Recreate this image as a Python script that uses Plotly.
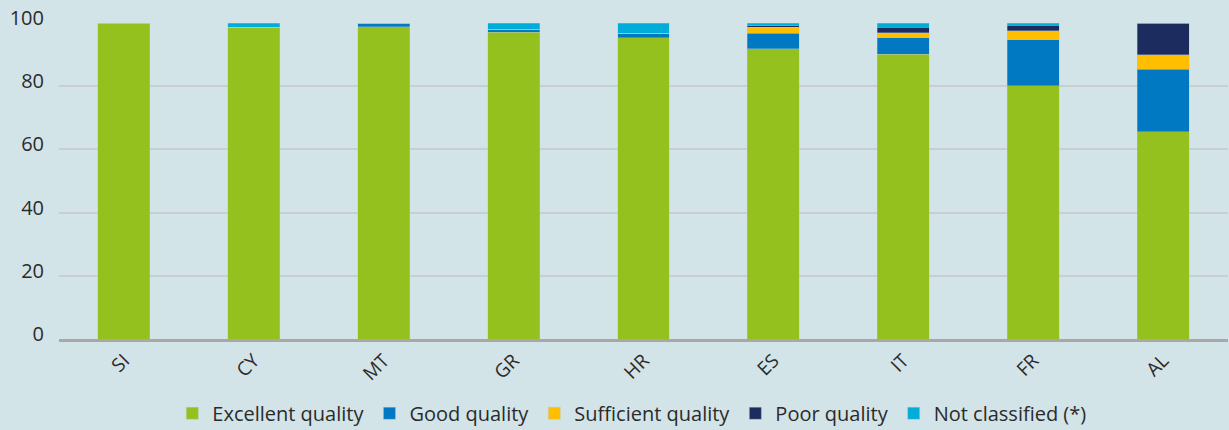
import plotly.graph_objects as go

countries = ["SI", "CY", "MT", "GR", "HR", "ES", "IT", "FR", "AL"]
excellent = [100.0, 98.7, 98.8, 97.0, 95.3, 91.8, 90.1, 80.2, 65.6]
good = [0.0, 0.0, 1.2, 1.1, 1.4, 5.0, 5.2, 14.5, 19.7]
sufficient = [0.0, 0.0, 0.0, 0.0, 0.0, 1.9, 1.6, 2.8, 4.7]
poor = [0.0, 0.0, 0.0, 0.0, 0.0, 0.5, 1.8, 1.8, 10.0]
not_classified = [0.0, 1.3, 0.0, 1.9, 3.3, 0.8, 1.3, 0.7, 0.0]

series = [
    ("Excellent quality", excellent, "#95C11F"),
    ("Good quality", good, "#0079C2"),
    ("Sufficient quality", sufficient, "#FFBE00"),
    ("Poor quality", poor, "#1C2C5E"),
    ("Not classified (*)", not_classified, "#00ADD8"),
]

fig = go.Figure()
for name, vals, col in series:
    fig.add_trace(go.Bar(
        x=countries, y=vals, name=name,
        marker=dict(color=col, line=dict(width=0.6, color="rgba(180,200,205,0.6)")),
    ))

bg = "#D2E4E8"
fig.update_layout(
    width=1229, height=430,
    barmode="stack", bargap=0.6,
    paper_bgcolor=bg, plot_bgcolor=bg,
    margin=dict(l=59, r=1, t=23, b=91, autoexpand=False),
    font=dict(family="Open Sans", color="#2b2b2b", size=19),
    showlegend=True,
    legend=dict(orientation="h", x=0.49, xanchor="center", y=-0.235, yanchor="middle",
                font=dict(size=20, color="#2b2b2b"), bgcolor="rgba(0,0,0,0)",
                traceorder="normal", itemwidth=30, tracegroupgap=0),
    xaxis=dict(tickangle=-45, showgrid=False, showline=True, linecolor="#A8A8A8",
               linewidth=3, ticks="", tickfont=dict(size=19), automargin=False),
    yaxis=dict(range=[0, 100], dtick=20, showgrid=True, gridcolor="#C9CFD1", gridwidth=2,
               zeroline=False, ticks="", tickfont=dict(size=20), ticklabelstandoff=14,
               ticklabelshift=-5, automargin=False),
)

fig.write_html("out.html", config={"displayModeBar": False},
               post_script="document.body.style.margin='0';")
